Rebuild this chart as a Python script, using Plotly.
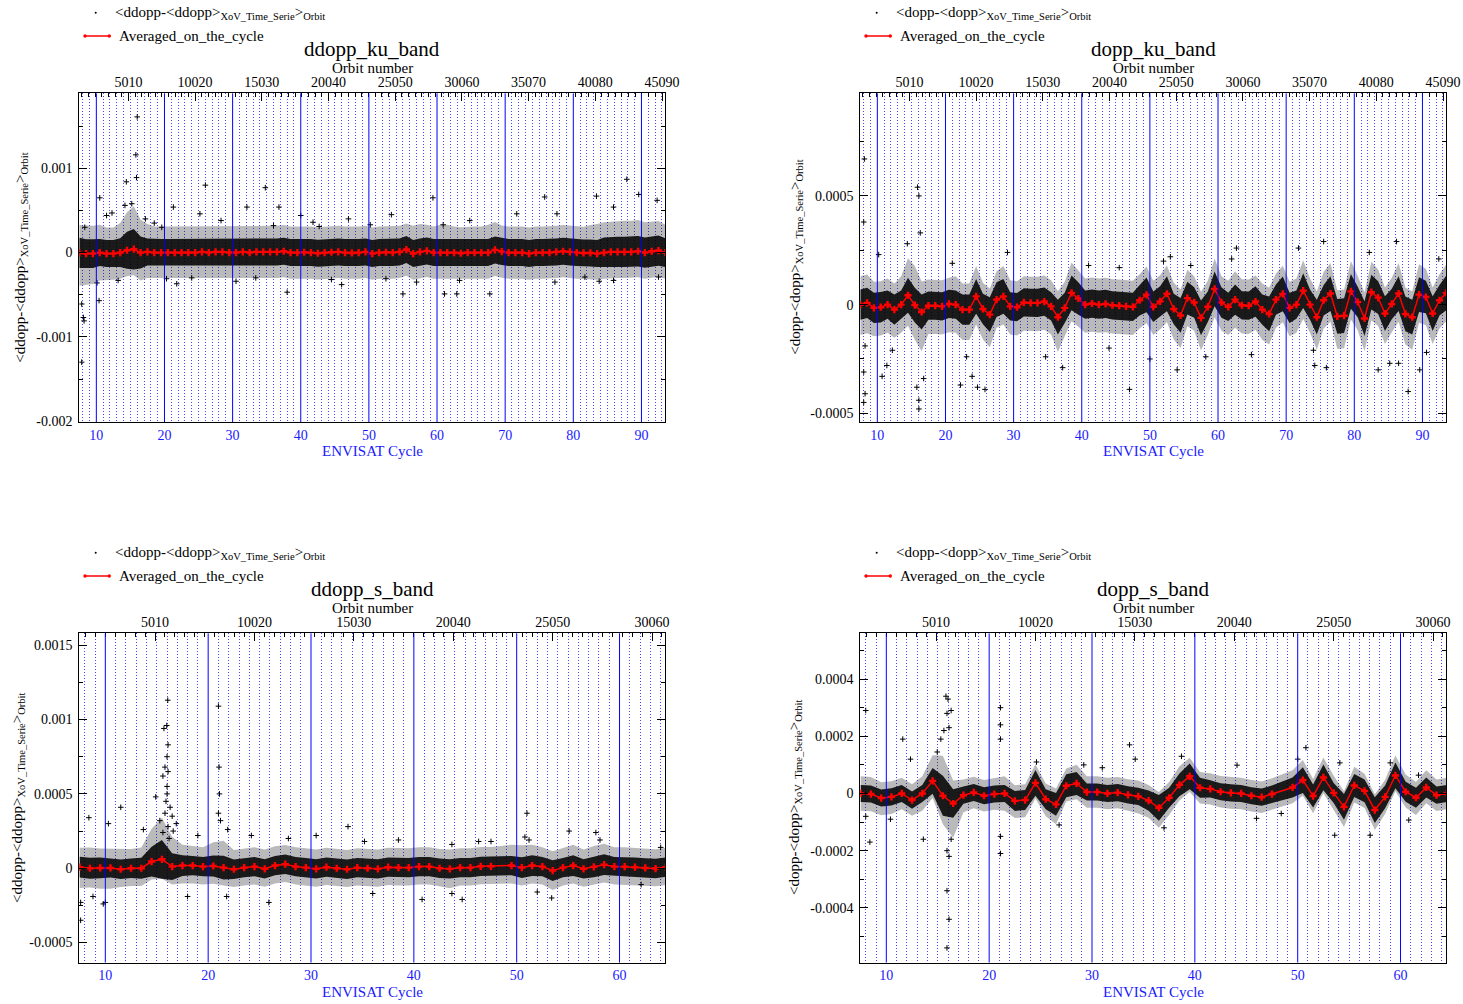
import plotly.graph_objects as go

W, H = 1463, 1004
UNIT = 1e-5            # per-cycle series below are stored in units of 1e-5
SERIF = "Liberation Serif, Times New Roman, serif"
BLUE = "#1a1aff"

# ---------------------------------------------------------------- cycles
KU_CYCLES = list(range(7, 94))     # ENVISAT cycles 7..93
S_CYCLES = list(range(7, 65))      # ENVISAT cycles 7..64 (cycle 48 missing)

# ---------------------------------------------------------------- ddopp_ku_band
DDOPP_KU_AVG = [
    -0.4, -1.2, -1.2, 0.0, -1.2, -1.2, 0.0, 2.8, 4.0, 0.0,
    0.8, 0.0, 0.0, 0.0, 0.0, 0.0, 0.0, 0.0, 0.8, 0.0,
    0.8, 0.8, 0.0, 0.0, 0.8, 0.0, 0.8, 0.8, 0.8, 0.8,
    1.6, 0.0, 0.0, 0.4, 0.0, -0.8, 0.0, 0.4, 0.8, 0.0,
    -0.4, 0.0, 0.8, -1.2, 0.0, 0.4, 0.0, 0.8, 3.6, -1.2,
    0.8, 2.0, 0.0, 0.0, 0.0, 0.0, -0.8, 0.0, 0.0, 0.0,
    0.0, 3.2, 1.2, 0.0, 0.0, 0.0, -1.2, 0.0, 0.0, 0.0,
    0.8, 1.6, 0.8, 0.0, -0.4, -0.4, -1.2, 0.0, 0.8, 0.8,
    0.8, 0.8, 1.6, 0.0, 1.6, 2.4, 0.0]
DDOPP_KU_CORE = [
    18, 17, 17, 16, 16, 16, 17, 22, 24, 19,
    16, 16, 16, 16, 16, 16, 16, 16, 16, 16,
    16, 16, 16, 16, 16, 16, 16, 16, 16, 16,
    16, 16, 16, 16, 16, 16, 16, 16, 16, 16,
    16, 16, 16, 16, 16, 16, 16, 16, 16, 16,
    16, 16, 16, 16, 16, 16, 16, 16, 16, 16,
    16, 16, 16, 16, 16, 16, 16, 16, 16, 16,
    16, 16, 16, 16, 16, 16, 16, 18, 18, 18,
    18, 18, 18, 18, 18, 18, 17]
DDOPP_KU_HALO_UP = [
    33, 33, 33, 33, 31, 31, 35, 45, 51, 39,
    33, 31, 31, 31, 31, 31, 31, 31, 31, 31,
    31, 31, 31, 31, 31, 31, 31, 31, 31, 31,
    31, 31, 31, 31, 31, 31, 31, 31, 31, 31,
    31, 31, 31, 31, 31, 31, 31, 31, 31, 33,
    33, 31, 31, 33, 33, 31, 31, 31, 31, 31,
    33, 33, 31, 31, 31, 31, 31, 31, 31, 31,
    31, 31, 31, 31, 31, 33, 35, 36, 36, 37,
    37, 37, 37, 36, 35, 35, 33]
DDOPP_KU_HALO_DN = [
    39, 37, 36, 33, 31, 31, 31, 31, 31, 33,
    31, 31, 31, 31, 31, 31, 31, 31, 31, 31,
    31, 31, 31, 31, 31, 31, 31, 31, 31, 31,
    31, 31, 31, 31, 31, 31, 31, 31, 31, 31,
    31, 31, 31, 31, 31, 31, 31, 31, 31, 31,
    31, 31, 31, 31, 31, 31, 31, 31, 31, 31,
    31, 31, 31, 31, 31, 31, 31, 31, 31, 31,
    31, 31, 31, 31, 31, 31, 31, 31, 31, 31,
    31, 31, 31, 31, 31, 31, 31]
DDOPP_KU_OUT_CYCLE = [
    16.0, 15.8, 15.9, 14.4, 10.5, 26.0, 34.8, 14.2, 15.2, 21.3, 25.2, 32.1, 36.8,
    11.5, 8.3, 8.1, 8.2, 7.85, 10.4, 10.1, 13.2, 20.3, 38.0, 21.8, 7.85, 87.85,
    89.6, 83.4, 75.8, 59.4, 92.3, 71.7, 77.6, 85.9, 64.8, 60.9, 55.0, 61.1, 62.9,
    67.75, 57.0, 63.3, 77.3, 81.7, 83.8, 85.9, 92.5, 40.0, 41.8, 44.5, 47.0, 50.2,
    52.5, 53.3, 46.0, 42.7, 28.3, 30.5, 18.5, 24.0, 12.3, 17.2, 19.6, 33.4, 36.0]
DDOPP_KU_OUT_VALUE = [
    161, 116, 89, 84, 65, 80, 77, 56, 58, 54, 46, 54, 54,
    44, 30, -77, -81, -61, -57, -36, -33, -31, -47, -37, -130, 87,
    69, 67, 66, 65, 62, 46, 46, 54, 38, 33, -49, -49, -49,
    -49, -35, -33, -35, -29, -34, -33, -29, 44, 36, -32, 40, 33,
    -31, 45, -38, 31, 38, -34, 35, -30, 47, 40, 30, -30, 32]

# ---------------------------------------------------------------- dopp_ku_band
DOPP_KU_AVG = [
    0.0, 0.8, -1.5, -1.2, 0.0, -2.3, 0.0, 4.3, -0.2, -3.4,
    -0.5, -0.5, -0.8, 0.3, 0.0, -2.3, -2.3, 3.8, -2.0, -4.6,
    2.3, 3.8, -0.8, -1.2, 1.0, 0.8, 0.8, 1.4, -0.8, -5.8,
    -1.5, 5.4, 2.8, 0.0, 0.5, 0.0, 0.3, -0.3, -0.5, -0.8,
    -1.0, 2.0, 4.5, -1.0, 1.5, 5.0, -2.0, -5.0, 3.0, 1.0,
    -6.1, -1.0, 7.2, 1.0, -1.0, 2.3, -0.3, -0.5, 1.4, -2.3,
    -4.3, 2.3, 4.9, -1.5, 0.0, 6.4, 0.0, -5.8, 2.0, 5.1,
    -5.4, -5.1, 6.1, 1.2, -6.4, 5.7, 3.2, -4.1, 0.3, 5.1,
    -4.3, -5.8, 4.6, 3.5, -4.1, 2.0, 5.4]
DOPP_KU_CORE = [
    7, 7, 7, 7, 6.5, 7, 6.5, 8, 8, 8,
    6.5, 6.5, 6.5, 6.5, 6.5, 7, 7, 8, 7, 8,
    8, 8, 6.5, 6.5, 6.5, 6.5, 6.5, 6.5, 6.5, 8,
    7, 8, 7.5, 6.5, 6.5, 6.5, 6.5, 6.5, 6.5, 6.5,
    6.5, 7, 8, 7, 7, 8, 7, 8, 7.5, 7,
    8, 7, 8, 7, 6.5, 7, 6.5, 6.5, 7, 7,
    8, 7, 8, 7, 6.5, 8, 7, 8, 7, 8,
    8, 8, 8, 7, 8, 8, 7.5, 8, 7, 8,
    8, 8, 8, 7.5, 8, 7, 8]
DOPP_KU_HALO_UP = [
    13, 13, 12, 12, 12, 12, 13, 17, 18, 14,
    12, 12, 12, 12, 13, 12, 12, 14, 12, 12,
    13, 14, 12, 12, 12, 12, 12, 12, 12, 12,
    12, 14, 13, 12, 12, 12, 12, 12, 12, 12,
    12, 12, 13, 12, 12, 13, 12, 12, 13, 12,
    12, 12, 14, 12, 12, 13, 12, 12, 12, 12,
    12, 12, 13, 12, 12, 14, 12, 12, 13, 14,
    12, 12, 14, 12, 12, 14, 13, 12, 12, 14,
    12, 12, 14, 13, 12, 12, 13]
DOPP_KU_HALO_DN = [
    14, 14, 13, 13, 13, 13, 13, 14, 16, 18,
    13, 13, 13, 13, 13, 14, 14, 13, 14, 15,
    13, 13, 13, 13, 13, 13, 13, 13, 13, 16,
    13, 13, 13, 13, 13, 13, 13, 13, 13, 13,
    13, 13, 13, 13, 13, 13, 14, 15, 13, 13,
    15, 13, 13, 13, 13, 13, 13, 13, 13, 14,
    14, 13, 13, 13, 13, 13, 13, 15, 13, 13,
    15, 15, 13, 13, 15, 13, 13, 14, 13, 13,
    14, 15, 13, 13, 14, 13, 13]
DOPP_KU_OUT_CYCLE = [
    8.1, 8.0, 15.9, 16.1, 16.3, 14.4, 10.2, 21.0, 29.1, 8.2, 10.7, 11.4, 8.0,
    8.2, 16.1, 16.1, 24.7, 23.9, 23.1, 34.7, 37.2, 12.2, 16.8, 15.8, 75.5, 86.2,
    71.8, 62.7, 82.2, 62.0, 92.4, 74.0, 64.9, 74.2, 75.9, 83.5, 85.2, 86.5, 87.9,
    89.6, 90.6, 41.0, 44.0, 47.0, 50.0, 52.0, 54.0, 56.0, 22.2, 25.8, 45.5, 53.0,
    58.2, 8.0]
DOPP_KU_OUT_VALUE = [
    67, 38, 54, 50, 33, 28, 23, 19, 24, -19, -33, -28, -31,
    -41, -48, -44, -38, -33, -24, -24, -29, -21, -34, -38, 29, 29,
    26, 26, 24, 21, 21, -21, -23, -28, -29, -30, -27, -27, -40,
    -30, -22, 18, -20, -39, -25, 20, -30, 18, -37, -39, 17, 22,
    -24, -45]

# ---------------------------------------------------------------- ddopp_s_band
DDOPP_S_AVG = [
    0.7, 0.0, 0.2, 0.2, -0.7, 0.0, 0.0, 4.5, 6.0, 1.1,
    1.8, 1.8, 1.1, 1.5, 0.4, -0.7, 0.4, 1.1, -0.4, 1.8,
    2.7, 1.1, 0.4, -0.4, 0.7, 0.0, -0.7, 0.4, 0.0, -0.4,
    0.7, 0.4, 0.4, 1.1, 1.1, 0.0, -0.4, 0.4, 0.4, 1.3,
    1.3, None, 1.8, 0.4, 1.8, 1.1, -1.6, 0.4, 1.8, -0.4,
    0.9, 2.4, 1.1, 1.1, 0.7, 0.2, -0.2, 0.7]
DDOPP_S_CORE = [
    7, 7, 7, 6.5, 6.5, 6.5, 7, 10, 13, 9,
    7, 6.5, 6.5, 7, 8, 6.5, 6.5, 6.5, 6.5, 6.5,
    6.5, 6.5, 6.5, 6.5, 6.5, 6.5, 6.5, 6.5, 6.5, 6.5,
    6.5, 6.5, 6.5, 6.5, 6.5, 6.5, 6.5, 6.5, 6.5, 6.5,
    6.5, None, 6.5, 7, 7, 6.5, 7, 6.5, 7, 6.5,
    7, 7, 6.5, 6.5, 6.5, 6.5, 6.5, 6.5]
DDOPP_S_HALO_UP = [
    13, 14, 13, 13, 14, 13, 14, 22, 28, 20,
    14, 13, 13, 16, 18, 13, 13, 13, 13, 13,
    13, 13, 13, 13, 13, 13, 13, 13, 13, 13,
    13, 13, 13, 13, 13, 13, 13, 13, 13, 13,
    13, None, 14, 15, 14, 13, 13, 13, 14, 13,
    14, 14, 13, 13, 13, 13, 13, 13]
DDOPP_S_HALO_DN = [
    14, 13, 14, 14, 12, 12, 12, 12, 13, 12,
    12, 12, 12, 12, 12, 12, 12, 12, 12, 12,
    12, 12, 12, 12, 12, 12, 12, 12, 12, 12,
    12, 12, 12, 12, 12, 12, 13, 12, 12, 12,
    12, None, 12, 12, 12, 12, 13, 12, 12, 12,
    12, 12, 12, 12, 12, 12, 12, 12]
DDOPP_S_OUT_CYCLE = [
    16.07, 15.7, 15.97, 16.1, 16.0, 15.8, 16.1, 15.6, 14.9, 16.0, 16.3, 15.8, 16.5,
    15.3, 16.1, 15.6, 16.6, 11.5, 8.4, 10.3, 13.7, 21.0, 21.06, 21.1, 21.0, 21.2,
    21.9, 9.8, 10.0, 8.8, 18.0, 21.8, 25.9, 7.6, 7.6, 51.0, 50.8, 51.2, 55.1,
    57.7, 58.1, 43.7, 47.5, 46.3, 64.0, 44.7, 43.7, 53.4, 40.8, 52.0, 62.1, 33.6,
    30.5, 36.0, 27.8, 24.2, 38.5, 35.2, 19.0, 16.9, 16.2, 15.9, 16.0]
DDOPP_S_OUT_VALUE = [
    113, 94, 96, 83, 75, 68, 65, 62, 48, 50, 41, 37, 35,
    32, 28, 24, 25, 41, 34, 30, 26, 109, 68, 50, 37, 32,
    26, -24, -23, -19, -19, -19, -23, -35, -23, 37, 21, 19, 25,
    24, 19, 16, 18, 18, 14, -21, -17, -20, -21, -16, -11, 28,
    22, -17, 20, 22, 19, 18, 22, 30, 20, 45, 55]

# ---------------------------------------------------------------- dopp_s_band
DOPP_S_AVG = [
    0.0, -0.2, -1.6, -1.2, 0.0, -2.3, 0.0, 4.4, -0.8, -3.5,
    -0.6, 0.35, -0.8, -0.2, 0.0, -2.6, -2.3, 3.7, -2.0, -3.8,
    2.7, 3.5, 0.5, 0.5, 0.0, 0.3, -0.5, -1.0, -2.5, -5.0,
    -1.5, 3.0, 6.0, 2.0, 1.6, 0.6, 0.2, 0.0, -0.8, -1.3,
    -0.2, None, 2.1, 4.7, -0.9, 5.6, 0.2, -4.7, 2.8, 0.9,
    -5.8, -1.2, 6.3, 0.6, -1.5, 2.1, -0.6, 0.0]
DOPP_S_CORE = [
    3, 3, 3, 3, 3, 3, 3, 4.5, 7, 5,
    3, 3, 3, 3, 3, 3.5, 3.5, 4.5, 3.5, 4,
    4, 4, 3, 3, 3, 3, 3, 3, 3.5, 4.5,
    3.5, 4, 4.5, 3.5, 3, 3, 3, 3, 3, 3,
    3, None, 3.5, 4.5, 4, 4.5, 3.5, 4.5, 4, 4,
    4.5, 4, 4.5, 3.5, 3.5, 3.5, 3, 3]
DOPP_S_HALO_UP = [
    6, 6, 5.5, 5.5, 5.5, 5.5, 6, 9, 14, 8,
    5.5, 5.5, 5.5, 5.5, 6, 5.5, 5.5, 6.5, 5.5, 5.5,
    6, 6.5, 5.5, 5.5, 5.5, 5.5, 5.5, 5.5, 5.5, 5.5,
    5.5, 6.5, 6.5, 5.5, 5.5, 5.5, 5.5, 5.5, 5.5, 5.5,
    5.5, None, 6, 7, 6, 7, 6, 5.5, 6.5, 6,
    5.5, 6, 7, 6, 5.5, 6, 5.5, 5.5]
DOPP_S_HALO_DN = [
    6, 6, 6, 6, 5.5, 5.5, 6, 6, 10, 12,
    6, 5.5, 5.5, 5.5, 6, 6, 6, 5.5, 6, 7,
    5.5, 5.5, 5.5, 5.5, 5.5, 5.5, 5.5, 6, 6, 7,
    6, 5.5, 5.5, 5.5, 5.5, 5.5, 5.5, 5.5, 5.5, 5.5,
    5.5, None, 5.5, 5.5, 6, 5.5, 6, 7, 6, 6,
    7, 6, 5.5, 5.5, 6, 5.5, 5.5, 5.5]
DOPP_S_OUT_CYCLE = [
    15.8, 16.0, 16.3, 15.9, 15.6, 16.1, 15.3, 11.6, 21.1, 21.1, 21.1, 12.35, 14.95,
    15.9, 16.1, 16.3, 15.9, 16.1, 15.9, 8.4, 21.1, 21.1, 13.6, 10.4, 8.0, 8.0,
    50.8, 50.0, 44.1, 54.1, 59.0, 61.75, 53.6, 57.05, 48.4, 60.8, 46.0, 33.65, 34.2,
    37.0, 29.2, 26.8, 24.6, 31.0, 38.7]
DOPP_S_OUT_VALUE = [
    34, 33, 29, 28, 22, 23, 19, 19, 30, 24, 19, 12, 14.5,
    -20, -22, -16, -34, -44, -54, -17, -15, -21, -16, -9, -8, 29,
    16, 12, 9.9, 10.7, 10.7, 6.4, -14.6, -14.6, -7, -9.3, -8.7, 17, 12,
    -12, 10, -11, 11, 9, 13]

# ---------------------------------------------------------------- axes / labels
DDOPP_KU_YTICKS = [-0.002, -0.001, 0.0, 0.001]
DOPP_KU_YTICKS = [-0.0005, 0.0, 0.0005]
DDOPP_S_YTICKS = [-0.0005, 0.0, 0.0005, 0.001, 0.0015]
DOPP_S_YTICKS = [-0.0004, -0.0002, 0.0, 0.0002, 0.0004]
KU_DECADES = [10, 20, 30, 40, 50, 60, 70, 80, 90]
S_DECADES = [10, 20, 30, 40, 50, 60]

LEG_DD = "&lt;ddopp-&lt;ddopp&gt;<sub>XoV_Time_Serie</sub>&gt;<sub>Orbit</sub>"
LEG_D = "&lt;dopp-&lt;dopp&gt;<sub>XoV_Time_Serie</sub>&gt;<sub>Orbit</sub>"

PANELS = [
    dict(title="ddopp_ku_band", label=LEG_DD, cycles=KU_CYCLES, avg=DDOPP_KU_AVG,
         core=DDOPP_KU_CORE, hup=DDOPP_KU_HALO_UP, hdn=DDOPP_KU_HALO_DN,
         oc=DDOPP_KU_OUT_CYCLE, ov=DDOPP_KU_OUT_VALUE, yticks=DDOPP_KU_YTICKS,
         yminor=0.0005, yrange=[-0.00201, 0.00189], xrange=[7.5, 93.5],
         orbit=[1322, 45338], decades=KU_DECADES, col=0, row=0, ytx=21),
    dict(title="dopp_ku_band", label=LEG_D, cycles=KU_CYCLES, avg=DOPP_KU_AVG,
         core=DOPP_KU_CORE, hup=DOPP_KU_HALO_UP, hdn=DOPP_KU_HALO_DN,
         oc=DOPP_KU_OUT_CYCLE, ov=DOPP_KU_OUT_VALUE, yticks=DOPP_KU_YTICKS,
         yminor=0.00025, yrange=[-0.00054, 0.000972], xrange=[7.5, 93.5],
         orbit=[1322, 45338], decades=KU_DECADES, col=1, row=0, ytx=796),
    dict(title="ddopp_s_band", label=LEG_DD, cycles=S_CYCLES, avg=DDOPP_S_AVG,
         core=DDOPP_S_CORE, hup=DDOPP_S_HALO_UP, hdn=DDOPP_S_HALO_DN,
         oc=DDOPP_S_OUT_CYCLE, ov=DDOPP_S_OUT_VALUE, yticks=DDOPP_S_YTICKS,
         yminor=0.00025, yrange=[-0.000634, 0.00158], xrange=[7.47, 64.45],
         orbit=[1192, 30729], decades=S_DECADES, col=0, row=1, ytx=18),
    dict(title="dopp_s_band", label=LEG_D, cycles=S_CYCLES, avg=DOPP_S_AVG,
         core=DOPP_S_CORE, hup=DOPP_S_HALO_UP, hdn=DOPP_S_HALO_DN,
         oc=DOPP_S_OUT_CYCLE, ov=DOPP_S_OUT_VALUE, yticks=DOPP_S_YTICKS,
         yminor=0.0001, yrange=[-0.000591, 0.00056], xrange=[7.47, 64.45],
         orbit=[1192, 30729], decades=S_DECADES, col=1, row=1, ytx=795),
]

COL_X = [(79.3, 665.3), (860.3, 1446.3)]   # plot-area left/right, px
ROW_Y = [(93.3, 422.0), (633.3, 962.5)]    # plot-area top/bottom, px


def fx(px):
    return px / W


def fy(px):
    return 1 - px / H


def band(mid, avg, up, dn):
    """Closed polygon avg+up ... avg-dn (reversed), skipping missing cycles."""
    xs, hi, lo = [], [], []
    for m, a, u, d in zip(mid, avg, up, dn):
        if a is None:
            continue
        xs.append(m)
        hi.append((a + u) * UNIT)
        lo.append((a - d) * UNIT)
    return xs + xs[::-1], hi + lo[::-1]


def axkey(kind, n):
    return kind + "axis" + ("" if n == 1 else str(n))


def axref(kind, n):
    return kind + ("" if n == 1 else str(n))


fig = go.Figure()
layout = {}
shapes, annotations = [], []

for k, p in enumerate(PANELS):
    nc, no, ny = 2 * k + 1, 2 * k + 2, k + 1
    xr, xo, yr = axref("x", nc), axref("x", no), axref("y", ny)
    left, right = COL_X[p["col"]]
    top, bottom = ROW_Y[p["row"]]
    mid = [c + 0.5 for c in p["cycles"]]

    # sparse outer cloud and dense core of the crossover points
    hx, hy = band(mid, p["avg"], p["hup"], p["hdn"])
    fig.add_trace(go.Scatter(x=hx, y=hy, xaxis=xr, yaxis=yr, mode="lines",
                             fill="toself", fillcolor="rgba(0,0,0,0.27)",
                             line=dict(width=0), hoverinfo="skip", showlegend=False))
    cx, cy = band(mid, p["avg"], p["core"], p["core"])
    fig.add_trace(go.Scatter(x=cx, y=cy, xaxis=xr, yaxis=yr, mode="lines",
                             fill="toself", fillcolor="rgba(0,0,0,0.86)",
                             line=dict(width=0), hoverinfo="skip", showlegend=False))
    # isolated points
    fig.add_trace(go.Scatter(x=p["oc"], y=[v * UNIT for v in p["ov"]],
                             xaxis=xr, yaxis=yr, mode="markers",
                             marker=dict(symbol="cross-thin", size=4, color="black",
                                         line=dict(width=1, color="black")),
                             showlegend=False))
    # cycle averages
    fig.add_trace(go.Scatter(x=mid, y=[None if a is None else a * UNIT for a in p["avg"]],
                             xaxis=xr, yaxis=yr, mode="lines+markers", connectgaps=True,
                             line=dict(color="red", width=1.5),
                             marker=dict(symbol="cross", size=6, color="red"),
                             showlegend=False))
    # empty trace so that the orbit-number axis is laid out on top
    fig.add_trace(go.Scatter(x=p["orbit"], y=[None, None], xaxis=xo, yaxis=yr,
                             mode="markers", hoverinfo="skip", showlegend=False))

    layout[axkey("x", nc)] = dict(
        domain=[fx(left), fx(right)], anchor=yr, range=p["xrange"], automargin=False,
        tickmode="linear", tick0=0, dtick=10, ticks="", showgrid=False,
        zeroline=False, showline=True, linecolor="black", linewidth=1,
        ticklabelstandoff=0,
        tickfont=dict(family=SERIF, size=14, color=BLUE),
        minor=dict(tickmode="linear", tick0=0, dtick=1, showgrid=True,
                   griddash="1px,2px", gridcolor="#4646ff", gridwidth=1, ticks=""))
    layout[axkey("x", no)] = dict(
        overlaying=xr, side="top", anchor=yr, range=p["orbit"], automargin=False,
        tickmode="linear", tick0=0, dtick=5010, tickformat="d",
        ticks="inside", ticklen=8, tickcolor="black", showgrid=False,
        zeroline=False, showline=True, linecolor="black", linewidth=1,
        tickfont=dict(family=SERIF, size=14, color="black"),
        minor=dict(tickmode="linear", tick0=0, dtick=501, ticks="inside",
                   ticklen=4, tickcolor="black", showgrid=False))
    layout[axkey("y", ny)] = dict(
        domain=[fy(bottom), fy(top)], anchor=xr, range=p["yrange"], automargin=False,
        tickmode="array", tickvals=p["yticks"],
        ticktext=[f"{v:g}" for v in p["yticks"]],
        ticks="inside", ticklen=8, tickcolor="black", showgrid=False,
        zeroline=False, showline=True, linecolor="black", linewidth=1,
        mirror="ticks", ticklabelstandoff=3,
        tickfont=dict(family=SERIF, size=14, color="black"),
        minor=dict(tickmode="linear", tick0=0, dtick=p["yminor"], ticks="inside",
                   ticklen=4, tickcolor="black", showgrid=False))

    # solid markers of every tenth cycle
    for c in p["decades"]:
        shapes.append(dict(type="line", xref=xr, yref=yr + " domain",
                           x0=c, x1=c, y0=0, y1=1, layer="above",
                           line=dict(color="#0000ff", width=1)))

    cxm = (left + right) / 2
    annotations += [
        dict(text=p["title"], x=fx(cxm), y=fy(top - 44.5), xanchor="center",
             yanchor="middle", font=dict(family=SERIF, size=21, color="black")),
        dict(text="Orbit number", x=fx(cxm), y=fy(top - 25.5), xanchor="center",
             yanchor="middle", font=dict(family=SERIF, size=15, color="black")),
        dict(text="ENVISAT Cycle", x=fx(cxm), y=fy(bottom + 29), xanchor="center",
             yanchor="middle", font=dict(family=SERIF, size=15, color=BLUE)),
        dict(text=p["label"], x=fx(p["ytx"]), y=fy((top + bottom) / 2), textangle=-90,
             xanchor="center", yanchor="middle",
             font=dict(family=SERIF, size=15, color="black")),
        # legend entries
        dict(text=p["label"], x=fx(left + 33.5), y=fy(top - 80.5), xanchor="left",
             yanchor="middle", font=dict(family=SERIF, size=15, color="black")),
        dict(text="Averaged_on_the_cycle", x=fx(left + 37.4), y=fy(top - 57.3),
             xanchor="left", yanchor="middle",
             font=dict(family=SERIF, size=15, color="black")),
    ]
    # legend symbols
    ly1, ly2 = top - 80.5, top - 57.3
    shapes += [
        dict(type="circle", xref="paper", yref="paper",
             x0=fx(left + 15.4), x1=fx(left + 17.4), y0=fy(ly1 + 1), y1=fy(ly1 - 1),
             fillcolor="black", line=dict(width=0)),
        dict(type="line", xref="paper", yref="paper",
             x0=fx(left + 5.7), x1=fx(left + 30), y0=fy(ly2), y1=fy(ly2),
             line=dict(color="red", width=1.5)),
        dict(type="circle", xref="paper", yref="paper",
             x0=fx(left + 4), x1=fx(left + 7.4), y0=fy(ly2 + 1.7), y1=fy(ly2 - 1.7),
             fillcolor="red", line=dict(width=0)),
        dict(type="circle", xref="paper", yref="paper",
             x0=fx(left + 28.3), x1=fx(left + 31.7), y0=fy(ly2 + 1.7), y1=fy(ly2 - 1.7),
             fillcolor="red", line=dict(width=0)),
    ]

for a in annotations:
    a.update(xref="paper", yref="paper", showarrow=False)

fig.update_layout(
    width=W, height=H, autosize=False,
    margin=dict(l=0, r=0, t=0, b=0, autoexpand=False),
    paper_bgcolor="white", plot_bgcolor="white",
    showlegend=False, hovermode=False,
    font=dict(family=SERIF, size=14, color="black"),
    shapes=shapes, annotations=annotations,
    **layout,
)

fig.write_html("out.html")
